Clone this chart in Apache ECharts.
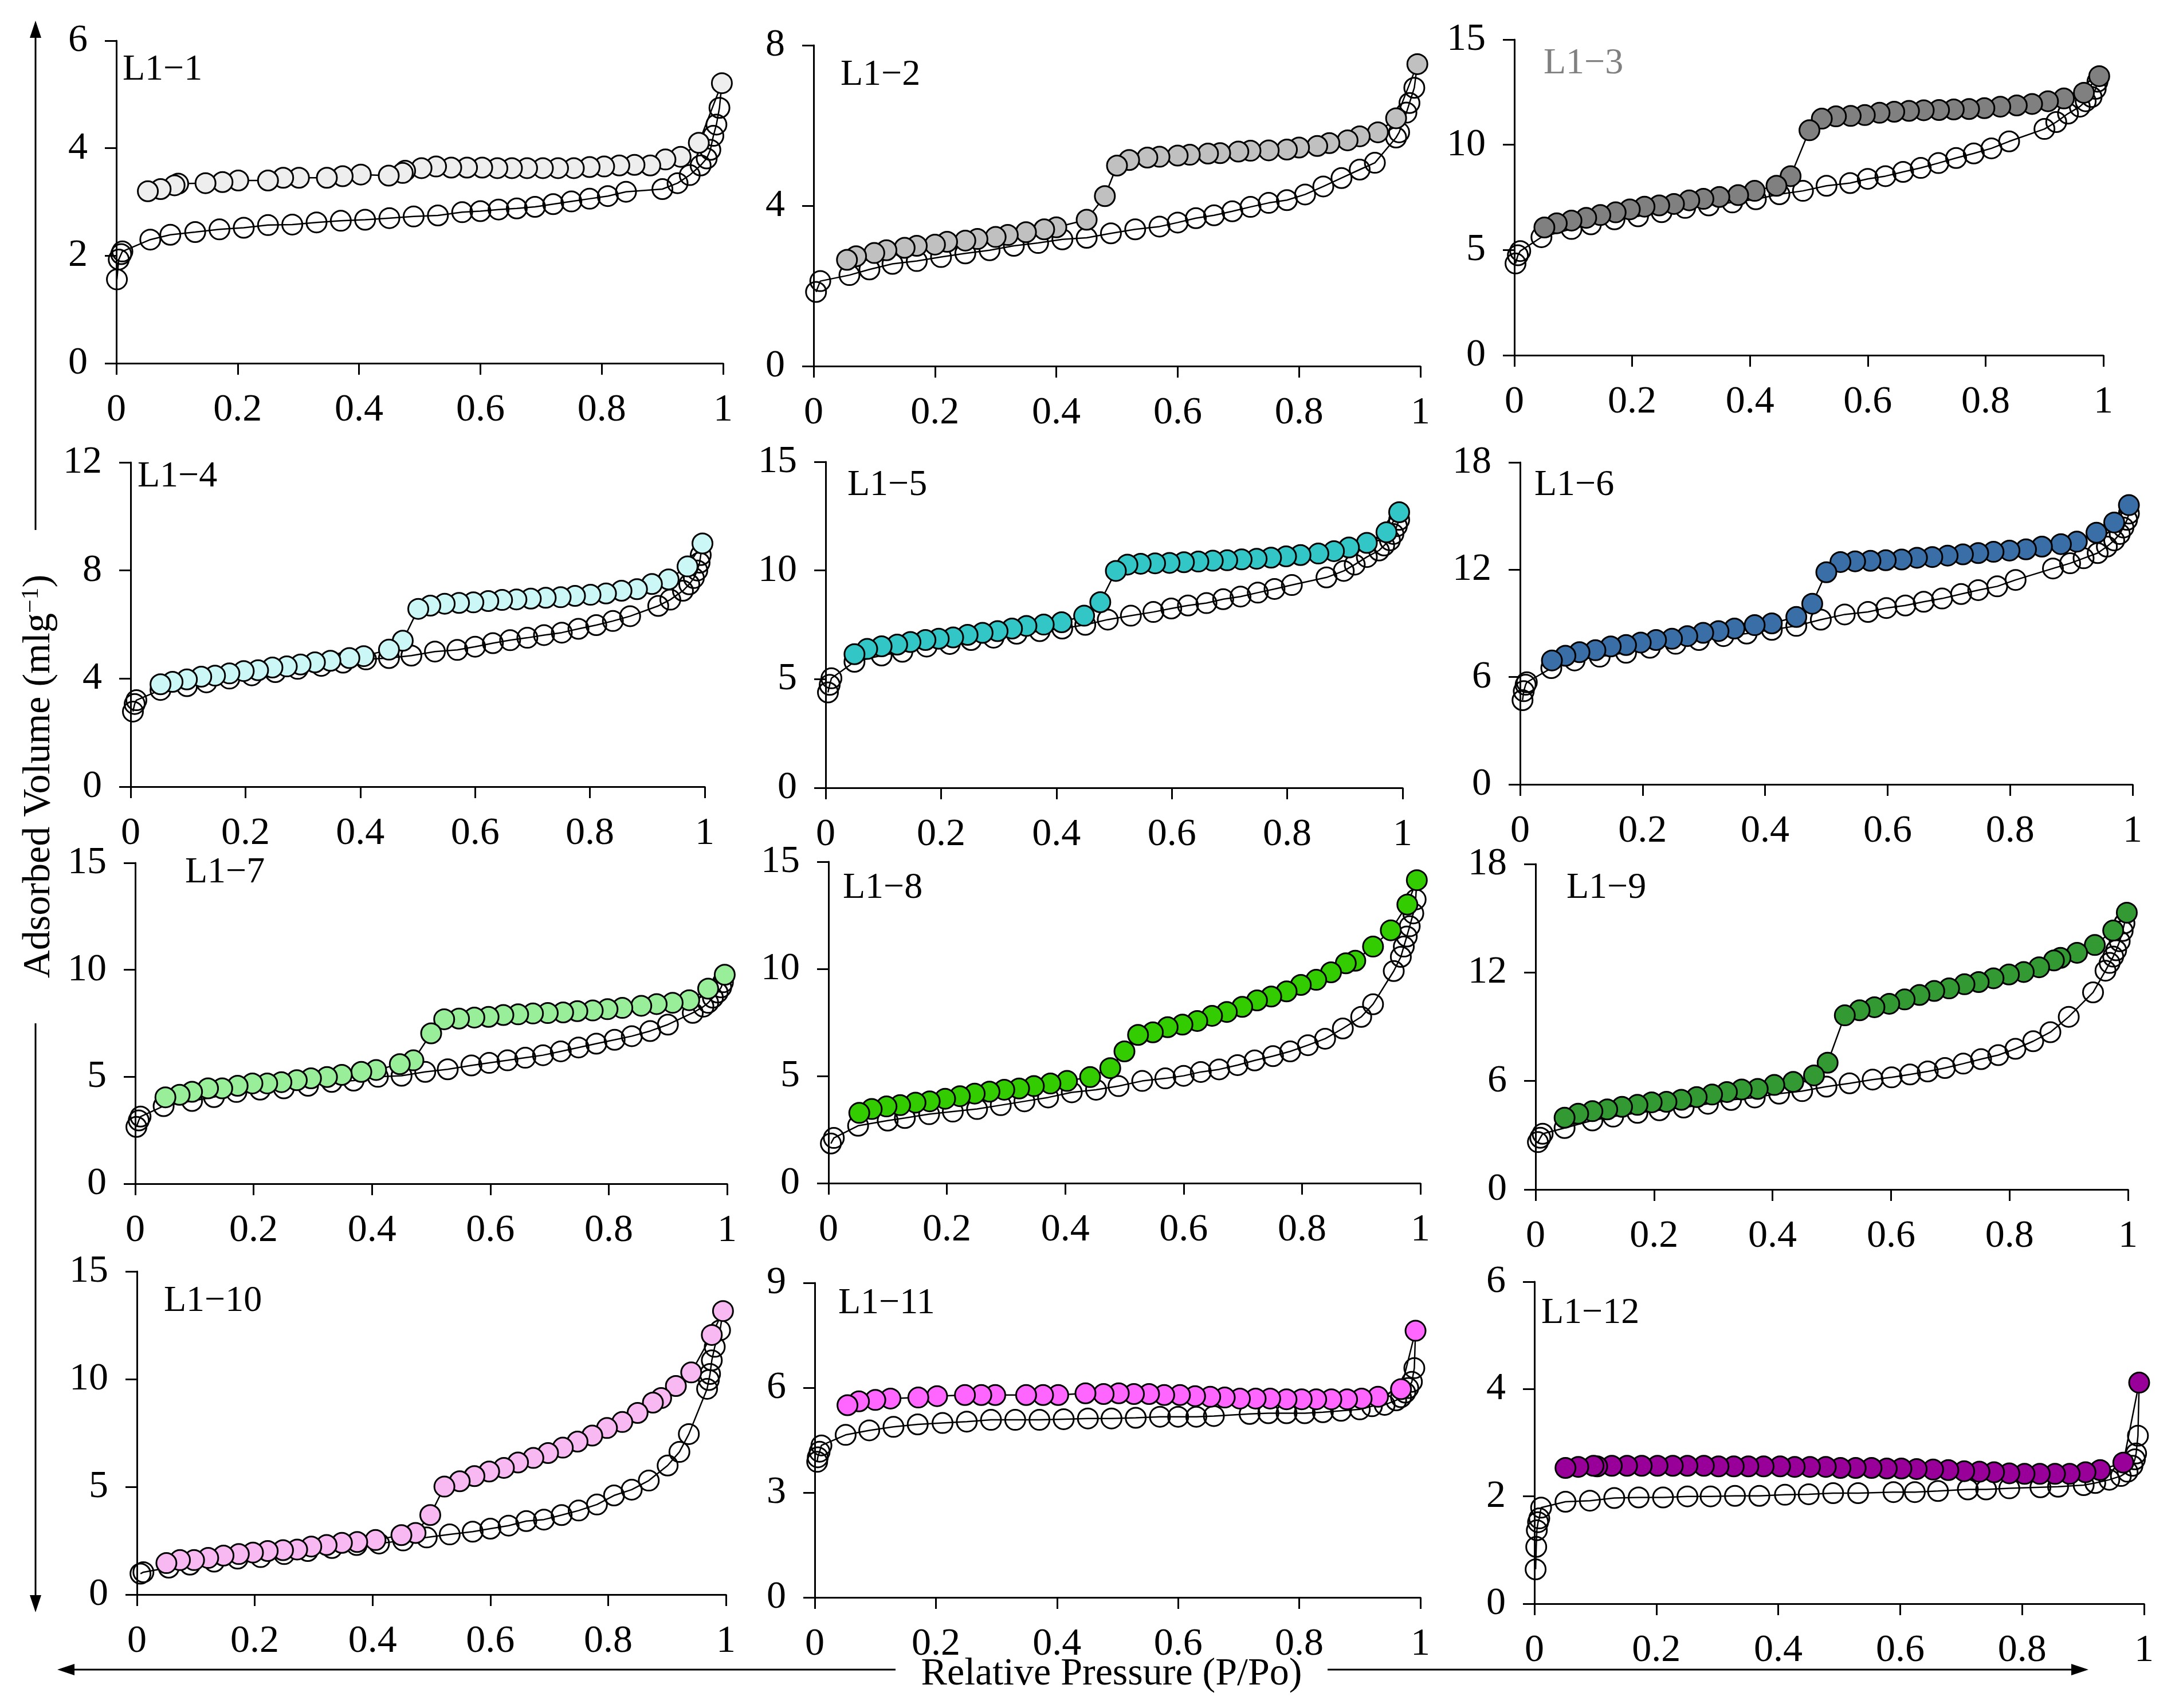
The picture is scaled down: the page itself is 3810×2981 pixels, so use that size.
<!doctype html>
<html>
<head>
<meta charset="utf-8">
<title>Isotherms L1-1 to L1-12</title>
<script src="https://cdn.jsdelivr.net/npm/echarts@6.0.0/dist/echarts.min.js"></script>
<style>
  html, body { margin: 0; padding: 0; background: #fff; }
  #main { width: 3810px; height: 2981px; }
</style>
</head>
<body>
<div id="main"></div>
<script>
// ---- data (P/Po, adsorbed volume) ----
var names = ['L1−1', 'L1−2', 'L1−3', 'L1−4', 'L1−5', 'L1−6', 'L1−7', 'L1−8', 'L1−9', 'L1−10', 'L1−11', 'L1−12'];
var yMax = [6, 8, 15, 12, 15, 18, 15, 15, 18, 15, 9, 6];
var yStep = [2, 4, 5, 4, 5, 6, 5, 5, 6, 5, 3, 2];
var xTicks = [0, 0.2, 0.4, 0.6, 0.8, 1];

var p1AdsX = [0.001, 0.004, 0.008, 0.01, 0.056, 0.089, 0.13, 0.17, 0.21, 0.25, 0.29, 0.33, 0.37, 0.41, 0.45, 0.49, 0.53, 0.57, 0.6, 0.63, 0.66, 0.69, 0.72, 0.75, 0.78, 0.81, 0.84, 0.9, 0.925, 0.945, 0.963, 0.973, 0.979, 0.984, 0.989, 0.994];
var p1AdsY = [1.56, 1.93, 2.03, 2.08, 2.30, 2.39, 2.44, 2.49, 2.52, 2.57, 2.58, 2.62, 2.65, 2.67, 2.70, 2.73, 2.75, 2.81, 2.83, 2.86, 2.88, 2.91, 2.96, 3.01, 3.06, 3.11, 3.19, 3.24, 3.35, 3.50, 3.68, 3.81, 3.97, 4.23, 4.44, 4.75];
var p1DesX = [0.998, 0.96, 0.93, 0.905, 0.88, 0.854, 0.829, 0.804, 0.78, 0.754, 0.728, 0.703, 0.677, 0.652, 0.628, 0.603, 0.578, 0.552, 0.527, 0.503, 0.476, 0.472, 0.449, 0.403, 0.373, 0.347, 0.301, 0.275, 0.25, 0.201, 0.175, 0.147, 0.102, 0.096, 0.073, 0.052];
var p1DesY = [5.21, 4.10, 3.84, 3.79, 3.68, 3.69, 3.68, 3.66, 3.65, 3.63, 3.63, 3.63, 3.63, 3.63, 3.63, 3.64, 3.64, 3.64, 3.66, 3.63, 3.58, 3.54, 3.49, 3.51, 3.48, 3.45, 3.45, 3.45, 3.40, 3.40, 3.37, 3.35, 3.34, 3.31, 3.24, 3.20];

var p2AdsX = [0.004, 0.011, 0.059, 0.092, 0.13, 0.17, 0.21, 0.25, 0.29, 0.33, 0.37, 0.41, 0.45, 0.49, 0.53, 0.57, 0.6, 0.63, 0.66, 0.69, 0.72, 0.75, 0.78, 0.81, 0.84, 0.87, 0.9, 0.925, 0.96, 0.965, 0.977, 0.982, 0.99];
var p2AdsY = [1.85, 2.12, 2.27, 2.41, 2.55, 2.62, 2.72, 2.81, 2.89, 3.0, 3.07, 3.16, 3.2, 3.31, 3.41, 3.48, 3.58, 3.69, 3.76, 3.86, 3.97, 4.07, 4.14, 4.28, 4.48, 4.69, 4.9, 5.07, 5.7, 5.83, 6.32, 6.56, 6.94];
var p2DesX = [0.995, 0.96, 0.93, 0.9, 0.88, 0.85, 0.83, 0.8, 0.78, 0.75, 0.72, 0.7, 0.67, 0.65, 0.62, 0.6, 0.57, 0.55, 0.52, 0.5, 0.48, 0.45, 0.4, 0.38, 0.35, 0.32, 0.3, 0.27, 0.25, 0.22, 0.2, 0.17, 0.15, 0.12, 0.1, 0.07, 0.055];
var p2DesY = [7.53, 6.18, 5.83, 5.73, 5.63, 5.56, 5.49, 5.45, 5.4, 5.38, 5.37, 5.35, 5.31, 5.3, 5.27, 5.25, 5.22, 5.2, 5.14, 5.0, 4.24, 3.65, 3.46, 3.41, 3.34, 3.27, 3.22, 3.17, 3.13, 3.1, 3.03, 3.0, 2.95, 2.89, 2.82, 2.74, 2.65];

var p3AdsX = [0.002, 0.006, 0.01, 0.046, 0.097, 0.13, 0.17, 0.21, 0.25, 0.29, 0.33, 0.37, 0.41, 0.45, 0.49, 0.53, 0.57, 0.6, 0.63, 0.66, 0.69, 0.72, 0.75, 0.78, 0.81, 0.84, 0.9, 0.92, 0.94, 0.96, 0.97, 0.98, 0.987, 0.99];
var p3AdsY = [4.36, 4.75, 4.95, 5.61, 6.0, 6.22, 6.46, 6.6, 6.8, 7.0, 7.12, 7.26, 7.41, 7.65, 7.81, 8.05, 8.18, 8.38, 8.51, 8.71, 8.9, 9.13, 9.37, 9.59, 9.83, 10.16, 10.75, 11.08, 11.48, 11.81, 12.07, 12.27, 12.66, 13.0];
var p3DesX = [0.993, 0.967, 0.933, 0.906, 0.879, 0.853, 0.825, 0.798, 0.772, 0.746, 0.721, 0.695, 0.67, 0.645, 0.62, 0.595, 0.571, 0.546, 0.522, 0.501, 0.469, 0.445, 0.408, 0.38, 0.348, 0.321, 0.297, 0.271, 0.246, 0.221, 0.196, 0.172, 0.146, 0.122, 0.097, 0.072, 0.051];
var p3DesY = [13.26, 12.47, 12.2, 12.07, 11.94, 11.87, 11.81, 11.74, 11.7, 11.68, 11.65, 11.64, 11.61, 11.57, 11.52, 11.41, 11.37, 11.35, 11.24, 10.69, 8.51, 8.05, 7.81, 7.61, 7.52, 7.43, 7.36, 7.19, 7.12, 7.06, 6.93, 6.79, 6.66, 6.53, 6.4, 6.27, 6.07];

var p4AdsX = [0.004, 0.007, 0.01, 0.052, 0.098, 0.132, 0.172, 0.211, 0.252, 0.291, 0.332, 0.37, 0.41, 0.45, 0.489, 0.53, 0.569, 0.6, 0.631, 0.661, 0.691, 0.72, 0.751, 0.78, 0.811, 0.84, 0.87, 0.919, 0.94, 0.962, 0.973, 0.981, 0.987, 0.991, 0.993];
var p4AdsY = [2.78, 3.06, 3.2, 3.58, 3.72, 3.86, 4.0, 4.12, 4.24, 4.36, 4.47, 4.59, 4.71, 4.76, 4.85, 5.0, 5.06, 5.18, 5.31, 5.42, 5.51, 5.61, 5.7, 5.84, 5.98, 6.13, 6.31, 6.69, 6.92, 7.25, 7.49, 7.72, 8.0, 8.29, 8.57];
var p4DesX = [0.996, 0.97, 0.937, 0.908, 0.882, 0.855, 0.828, 0.801, 0.774, 0.749, 0.723, 0.697, 0.672, 0.647, 0.623, 0.597, 0.572, 0.547, 0.522, 0.501, 0.474, 0.45, 0.406, 0.381, 0.348, 0.321, 0.296, 0.272, 0.247, 0.222, 0.197, 0.172, 0.147, 0.123, 0.098, 0.073, 0.052];
var p4DesY = [9.0, 8.15, 7.67, 7.5, 7.31, 7.25, 7.15, 7.1, 7.06, 7.01, 6.99, 6.96, 6.93, 6.91, 6.87, 6.82, 6.8, 6.77, 6.7, 6.58, 5.4, 5.07, 4.83, 4.76, 4.66, 4.6, 4.52, 4.45, 4.41, 4.31, 4.28, 4.19, 4.11, 4.07, 3.97, 3.88, 3.79];

var p5AdsX = [0.004, 0.007, 0.01, 0.05, 0.097, 0.133, 0.175, 0.215, 0.252, 0.291, 0.331, 0.371, 0.41, 0.45, 0.489, 0.529, 0.568, 0.599, 0.628, 0.66, 0.689, 0.719, 0.749, 0.778, 0.808, 0.868, 0.898, 0.917, 0.938, 0.959, 0.968, 0.978, 0.984, 0.99, 0.994];
var p5AdsY = [4.39, 4.74, 5.04, 5.8, 6.09, 6.26, 6.5, 6.62, 6.8, 6.91, 7.09, 7.21, 7.33, 7.5, 7.74, 7.92, 8.09, 8.25, 8.39, 8.5, 8.68, 8.8, 8.98, 9.15, 9.33, 9.68, 9.98, 10.27, 10.62, 10.92, 11.15, 11.39, 11.68, 12.04, 12.33];
var p5DesX = [0.994, 0.972, 0.938, 0.907, 0.881, 0.854, 0.823, 0.798, 0.772, 0.747, 0.721, 0.696, 0.671, 0.646, 0.621, 0.596, 0.571, 0.546, 0.523, 0.503, 0.476, 0.448, 0.409, 0.378, 0.348, 0.323, 0.298, 0.272, 0.246, 0.221, 0.196, 0.173, 0.147, 0.124, 0.097, 0.072, 0.05];
var p5DesY = [12.68, 11.76, 11.27, 11.06, 10.89, 10.78, 10.71, 10.65, 10.59, 10.54, 10.51, 10.47, 10.45, 10.41, 10.38, 10.35, 10.33, 10.31, 10.27, 9.98, 8.54, 7.92, 7.62, 7.51, 7.45, 7.33, 7.21, 7.13, 7.04, 6.92, 6.86, 6.8, 6.71, 6.59, 6.51, 6.39, 6.15];

var p6AdsX = [0.004, 0.006, 0.009, 0.011, 0.051, 0.089, 0.13, 0.173, 0.212, 0.254, 0.292, 0.332, 0.37, 0.411, 0.451, 0.491, 0.53, 0.568, 0.598, 0.629, 0.659, 0.689, 0.72, 0.748, 0.779, 0.809, 0.87, 0.898, 0.92, 0.943, 0.958, 0.97, 0.979, 0.985, 0.991, 0.994];
var p6AdsY = [4.71, 5.21, 5.57, 5.71, 6.5, 6.93, 7.14, 7.36, 7.64, 7.86, 8.07, 8.29, 8.43, 8.64, 8.86, 9.21, 9.5, 9.64, 9.86, 10.0, 10.21, 10.39, 10.64, 10.86, 11.07, 11.43, 12.07, 12.36, 12.64, 12.93, 13.29, 13.64, 14.0, 14.36, 14.79, 15.14];
var p6DesX = [0.994, 0.97, 0.941, 0.909, 0.883, 0.852, 0.826, 0.799, 0.773, 0.748, 0.723, 0.698, 0.673, 0.648, 0.623, 0.597, 0.572, 0.547, 0.523, 0.5, 0.477, 0.451, 0.411, 0.383, 0.35, 0.324, 0.299, 0.273, 0.248, 0.222, 0.197, 0.173, 0.148, 0.123, 0.097, 0.074, 0.052];
var p6DesY = [15.61, 14.64, 14.07, 13.57, 13.43, 13.29, 13.14, 13.07, 13.0, 12.93, 12.86, 12.79, 12.71, 12.67, 12.57, 12.53, 12.5, 12.47, 12.43, 11.86, 10.1, 9.36, 9.0, 8.9, 8.71, 8.57, 8.47, 8.29, 8.14, 8.07, 7.93, 7.79, 7.71, 7.5, 7.39, 7.19, 6.93];

var p7AdsX = [0.002, 0.006, 0.009, 0.048, 0.096, 0.133, 0.171, 0.211, 0.251, 0.292, 0.332, 0.369, 0.41, 0.45, 0.49, 0.528, 0.568, 0.598, 0.629, 0.659, 0.689, 0.719, 0.749, 0.779, 0.81, 0.839, 0.87, 0.9, 0.942, 0.96, 0.968, 0.976, 0.984, 0.99, 0.993];
var p7AdsY = [2.66, 2.96, 3.14, 3.63, 3.87, 4.05, 4.29, 4.4, 4.46, 4.58, 4.76, 4.82, 5.0, 5.05, 5.23, 5.35, 5.53, 5.65, 5.77, 5.89, 6.01, 6.19, 6.37, 6.55, 6.73, 6.9, 7.14, 7.44, 7.99, 8.28, 8.46, 8.7, 8.94, 9.18, 9.42];
var p7DesX = [0.996, 0.968, 0.936, 0.908, 0.881, 0.855, 0.823, 0.798, 0.773, 0.747, 0.723, 0.697, 0.672, 0.647, 0.622, 0.597, 0.573, 0.547, 0.522, 0.5, 0.47, 0.447, 0.407, 0.382, 0.349, 0.324, 0.297, 0.273, 0.247, 0.223, 0.198, 0.173, 0.147, 0.123, 0.096, 0.075, 0.051];
var p7DesY = [9.77, 9.12, 8.58, 8.46, 8.4, 8.32, 8.22, 8.16, 8.1, 8.07, 8.01, 7.98, 7.96, 7.92, 7.89, 7.8, 7.77, 7.72, 7.69, 7.03, 5.77, 5.59, 5.32, 5.23, 5.09, 4.99, 4.93, 4.84, 4.75, 4.69, 4.69, 4.58, 4.46, 4.46, 4.3, 4.16, 4.04];

var p8AdsX = [0.004, 0.009, 0.05, 0.1, 0.129, 0.17, 0.21, 0.251, 0.291, 0.331, 0.371, 0.411, 0.452, 0.49, 0.53, 0.569, 0.6, 0.629, 0.66, 0.691, 0.72, 0.751, 0.78, 0.81, 0.839, 0.869, 0.9, 0.92, 0.955, 0.967, 0.972, 0.977, 0.982, 0.988, 0.992];
var p8AdsY = [1.85, 2.11, 2.68, 2.92, 3.04, 3.22, 3.34, 3.46, 3.64, 3.82, 4.0, 4.24, 4.36, 4.53, 4.77, 4.89, 5.01, 5.19, 5.31, 5.51, 5.73, 5.93, 6.15, 6.44, 6.74, 7.22, 7.76, 8.35, 9.9, 10.56, 11.04, 11.51, 11.99, 12.59, 13.24];
var p8DesX = [0.994, 0.978, 0.95, 0.92, 0.89, 0.874, 0.849, 0.824, 0.798, 0.774, 0.748, 0.724, 0.699, 0.673, 0.648, 0.623, 0.598, 0.573, 0.548, 0.523, 0.5, 0.476, 0.442, 0.403, 0.375, 0.347, 0.322, 0.297, 0.272, 0.247, 0.222, 0.197, 0.171, 0.147, 0.121, 0.098, 0.073, 0.052];
var p8DesY = [14.14, 13.0, 11.8, 11.04, 10.38, 10.26, 9.84, 9.49, 9.25, 8.95, 8.71, 8.53, 8.23, 7.99, 7.81, 7.57, 7.4, 7.28, 7.04, 6.92, 6.15, 5.37, 4.95, 4.77, 4.65, 4.53, 4.42, 4.36, 4.27, 4.18, 4.06, 3.94, 3.82, 3.76, 3.64, 3.58, 3.46, 3.28];

var p9AdsX = [0.004, 0.008, 0.012, 0.049, 0.096, 0.131, 0.172, 0.209, 0.25, 0.291, 0.33, 0.37, 0.411, 0.45, 0.491, 0.53, 0.569, 0.601, 0.632, 0.662, 0.691, 0.722, 0.752, 0.781, 0.81, 0.84, 0.869, 0.9, 0.941, 0.962, 0.969, 0.975, 0.98, 0.986, 0.991, 0.994];
var p9AdsY = [2.62, 2.86, 3.08, 3.4, 3.82, 4.03, 4.24, 4.38, 4.53, 4.74, 4.95, 5.09, 5.3, 5.44, 5.69, 5.87, 6.08, 6.2, 6.36, 6.53, 6.72, 6.96, 7.21, 7.43, 7.78, 8.2, 8.7, 9.55, 10.9, 12.1, 12.53, 12.88, 13.23, 13.73, 14.3, 14.72];
var p9DesX = [0.998, 0.975, 0.944, 0.914, 0.886, 0.875, 0.85, 0.824, 0.799, 0.773, 0.748, 0.724, 0.698, 0.673, 0.648, 0.623, 0.597, 0.572, 0.547, 0.522, 0.493, 0.47, 0.435, 0.403, 0.375, 0.348, 0.323, 0.298, 0.272, 0.246, 0.221, 0.196, 0.172, 0.146, 0.121, 0.096, 0.072, 0.049];
var p9DesY = [15.31, 14.32, 13.52, 13.09, 12.81, 12.67, 12.29, 12.03, 11.89, 11.68, 11.47, 11.35, 11.12, 10.98, 10.76, 10.51, 10.27, 10.08, 9.91, 9.63, 7.01, 6.31, 5.95, 5.78, 5.56, 5.53, 5.39, 5.25, 5.11, 4.96, 4.85, 4.82, 4.68, 4.57, 4.43, 4.33, 4.19, 3.97];

var p10AdsX = [0.006, 0.011, 0.054, 0.09, 0.131, 0.171, 0.21, 0.25, 0.29, 0.331, 0.373, 0.411, 0.452, 0.492, 0.531, 0.57, 0.6, 0.631, 0.661, 0.691, 0.721, 0.75, 0.781, 0.81, 0.84, 0.869, 0.901, 0.921, 0.937, 0.968, 0.971, 0.973, 0.976, 0.981, 0.99];
var p10AdsY = [0.97, 1.04, 1.25, 1.39, 1.53, 1.67, 1.74, 1.88, 2.02, 2.16, 2.3, 2.37, 2.51, 2.65, 2.79, 2.92, 3.06, 3.2, 3.41, 3.48, 3.69, 3.9, 4.18, 4.6, 4.87, 5.29, 5.99, 6.62, 7.45, 9.55, 9.96, 10.24, 10.87, 11.5, 12.27];
var p10DesX = [0.995, 0.976, 0.941, 0.915, 0.89, 0.876, 0.85, 0.824, 0.798, 0.773, 0.748, 0.723, 0.698, 0.673, 0.647, 0.623, 0.598, 0.573, 0.548, 0.522, 0.498, 0.473, 0.449, 0.405, 0.374, 0.348, 0.322, 0.296, 0.272, 0.248, 0.222, 0.197, 0.173, 0.147, 0.121, 0.097, 0.073, 0.05];
var p10DesY = [13.16, 12.05, 10.31, 9.68, 9.12, 8.91, 8.43, 8.01, 7.73, 7.38, 7.1, 6.82, 6.57, 6.34, 6.13, 5.88, 5.71, 5.5, 5.26, 5.01, 3.69, 2.86, 2.76, 2.53, 2.44, 2.4, 2.3, 2.23, 2.09, 2.06, 2.02, 1.95, 1.88, 1.81, 1.7, 1.6, 1.6, 1.46];

var p11AdsX = [0.004, 0.005, 0.008, 0.011, 0.051, 0.09, 0.13, 0.17, 0.211, 0.251, 0.291, 0.331, 0.371, 0.411, 0.451, 0.49, 0.53, 0.57, 0.6, 0.63, 0.659, 0.718, 0.749, 0.779, 0.809, 0.839, 0.869, 0.9, 0.92, 0.941, 0.96, 0.968, 0.975, 0.98, 0.986, 0.99];
var p11AdsY = [3.88, 4.01, 4.17, 4.35, 4.65, 4.78, 4.88, 4.95, 4.99, 5.03, 5.08, 5.08, 5.08, 5.1, 5.12, 5.12, 5.14, 5.17, 5.17, 5.17, 5.19, 5.25, 5.27, 5.27, 5.27, 5.3, 5.34, 5.38, 5.47, 5.51, 5.64, 5.73, 5.86, 5.99, 6.17, 6.56];
var p11DesX = [0.992, 0.968, 0.93, 0.903, 0.879, 0.853, 0.828, 0.804, 0.779, 0.752, 0.728, 0.702, 0.677, 0.653, 0.628, 0.603, 0.577, 0.552, 0.527, 0.502, 0.477, 0.447, 0.402, 0.377, 0.349, 0.298, 0.275, 0.248, 0.202, 0.171, 0.125, 0.1, 0.073, 0.054];
var p11DesY = [7.63, 5.96, 5.74, 5.69, 5.67, 5.67, 5.67, 5.67, 5.67, 5.69, 5.69, 5.69, 5.72, 5.74, 5.76, 5.79, 5.79, 5.82, 5.82, 5.84, 5.82, 5.84, 5.79, 5.79, 5.79, 5.79, 5.79, 5.79, 5.76, 5.72, 5.69, 5.65, 5.61, 5.5];

var p12AdsX = [0.002, 0.003, 0.004, 0.006, 0.008, 0.011, 0.051, 0.091, 0.131, 0.171, 0.211, 0.251, 0.289, 0.329, 0.369, 0.411, 0.45, 0.49, 0.531, 0.589, 0.624, 0.662, 0.711, 0.741, 0.779, 0.83, 0.859, 0.901, 0.92, 0.943, 0.962, 0.973, 0.981, 0.985, 0.987, 0.99];
var p12AdsY = [0.64, 1.06, 1.37, 1.52, 1.59, 1.79, 1.9, 1.92, 1.97, 1.98, 1.98, 2.0, 2.0, 2.01, 2.01, 2.03, 2.04, 2.06, 2.06, 2.08, 2.08, 2.1, 2.13, 2.13, 2.15, 2.17, 2.18, 2.21, 2.25, 2.31, 2.38, 2.46, 2.57, 2.69, 2.8, 3.13];
var p12DesX = [0.992, 0.966, 0.928, 0.904, 0.878, 0.854, 0.829, 0.804, 0.779, 0.754, 0.73, 0.705, 0.679, 0.654, 0.627, 0.602, 0.578, 0.553, 0.527, 0.502, 0.478, 0.452, 0.427, 0.403, 0.376, 0.351, 0.327, 0.302, 0.278, 0.251, 0.227, 0.202, 0.176, 0.152, 0.127, 0.103, 0.097, 0.072, 0.051];
var p12DesY = [4.12, 2.63, 2.49, 2.45, 2.42, 2.42, 2.42, 2.42, 2.43, 2.45, 2.46, 2.47, 2.49, 2.5, 2.51, 2.52, 2.52, 2.53, 2.53, 2.53, 2.55, 2.55, 2.55, 2.56, 2.56, 2.56, 2.56, 2.56, 2.57, 2.57, 2.57, 2.57, 2.57, 2.57, 2.57, 2.56, 2.57, 2.55, 2.53];

var adsX = [p1AdsX, p2AdsX, p3AdsX, p4AdsX, p5AdsX, p6AdsX, p7AdsX, p8AdsX, p9AdsX, p10AdsX, p11AdsX, p12AdsX];
var adsY = [p1AdsY, p2AdsY, p3AdsY, p4AdsY, p5AdsY, p6AdsY, p7AdsY, p8AdsY, p9AdsY, p10AdsY, p11AdsY, p12AdsY];
var desX = [p1DesX, p2DesX, p3DesX, p4DesX, p5DesX, p6DesX, p7DesX, p8DesX, p9DesX, p10DesX, p11DesX, p12DesX];
var desY = [p1DesY, p2DesY, p3DesY, p4DesY, p5DesY, p6DesY, p7DesY, p8DesY, p9DesY, p10DesY, p11DesY, p12DesY];

// ---- look ----
var desColors = ['#eeeeee', '#c0c0c0', '#808080', '#ccf7f7', '#33c6c6', '#3a6ea6', '#99ee99', '#33cc00', '#339933', '#f8b8f2', '#ff66ff', '#990099'];
var nameColors = ['#000', '#000', '#808080', '#000', '#000', '#000', '#000', '#000', '#000', '#000', '#000', '#000'];
// grid boxes [left, top, width, height]
var boxes = [
  [203, 71, 1059, 563], [1420, 79, 1059, 560], [2643, 69, 1028, 551],
  [228, 807, 1002, 566], [1441, 806, 1007, 569], [2653, 807, 1069, 562],
  [236, 1506, 1033, 560], [1446, 1504, 1033, 561], [2680, 1508, 1034, 568],
  [239, 2219, 1028, 564], [1422, 2239, 1057, 549], [2678, 2237, 1064, 562]
];
// panel name positions [left, middle y]
var namePos = [
  [214, 122], [1467, 131], [2694, 111],
  [240, 832], [1479, 847], [2678, 847],
  [323, 1523], [1471, 1550], [2734, 1550],
  [286, 2271], [1463, 2275], [2690, 2292]
];

var FONT = "'Liberation Serif', 'Times New Roman', serif";
var FS = 64;
var TFS = 68;

function zip(xs, ys) {
  var out = [];
  for (var k = 0; k < xs.length; k++) out.push([xs[k], ys[k]]);
  return out;
}

var grids = [], xAxes = [], yAxes = [], series = [], graphics = [];

for (var i = 0; i < 12; i++) {
  var b = boxes[i];
  grids.push({ left: b[0], top: b[1], width: b[2], height: b[3], containLabel: false });

  xAxes.push({
    gridIndex: i, type: 'value', min: 0, max: 1, interval: 0.2,
    axisLine: { show: true, onZero: false, lineStyle: { color: '#000', width: 3 } },
    axisTick: { show: true, length: 20, lineStyle: { color: '#000', width: 3 } },
    axisLabel: { color: '#000', fontFamily: FONT, fontSize: TFS, margin: 48 },
    splitLine: { show: false }
  });
  yAxes.push({
    gridIndex: i, type: 'value', min: 0, max: yMax[i], interval: yStep[i],
    axisLine: { show: true, onZero: false, lineStyle: { color: '#000', width: 3 } },
    axisTick: { show: true, length: 20, lineStyle: { color: '#000', width: 3 } },
    axisLabel: { color: '#000', fontFamily: FONT, fontSize: TFS, margin: 50 },
    splitLine: { show: false }
  });

  var ads = zip(adsX[i], adsY[i]);
  var des = zip(desX[i], desY[i]);

  // connecting line through the whole loop
  series.push({
    type: 'line', xAxisIndex: i, yAxisIndex: i, z: 1,
    data: ads.concat(des), showSymbol: false, silent: true,
    lineStyle: { color: '#000', width: 2.5 }
  });
  // adsorption: open circles
  series.push({
    type: 'scatter', xAxisIndex: i, yAxisIndex: i, z: 2,
    data: ads, symbol: 'circle', symbolSize: 35,
    itemStyle: { color: 'rgba(255,255,255,0)', borderColor: '#000', borderWidth: 3, opacity: 1 }
  });
  // desorption: filled circles
  series.push({
    type: 'scatter', xAxisIndex: i, yAxisIndex: i, z: 3,
    data: des, symbol: 'circle', symbolSize: 35,
    itemStyle: { color: desColors[i], borderColor: '#000', borderWidth: 3, opacity: 1 }
  });

  graphics.push({
    type: 'text', left: namePos[i][0], top: namePos[i][1] - FS / 2, z: 10,
    style: { text: names[i], fill: nameColors[i], font: FS + 'px ' + FONT }
  });
}

// axis titles with arrows
var LW = 3;
graphics.push(
  { type: 'line', shape: { x1: 62, y1: 925, x2: 62, y2: 60 }, style: { stroke: '#000', lineWidth: LW } },
  { type: 'polygon', shape: { points: [[62, 36], [52, 66], [72, 66]] }, style: { fill: '#000' } },
  { type: 'line', shape: { x1: 62, y1: 1786, x2: 62, y2: 2790 }, style: { stroke: '#000', lineWidth: LW } },
  { type: 'polygon', shape: { points: [[62, 2814], [52, 2784], [72, 2784]] }, style: { fill: '#000' } },
  {
    type: 'text', x: 68, y: 1355, rotation: Math.PI / 2,
    style: {
      text: 'Adsorbed Volume (mlg{sup|−1})',
      font: TFS + 'px ' + FONT, fill: '#000', align: 'center', verticalAlign: 'middle',
      rich: { sup: { fontSize: 42, fontFamily: FONT, verticalAlign: 'top', fill: '#000' } }
    }
  },
  { type: 'line', shape: { x1: 124, y1: 2914, x2: 1563, y2: 2914 }, style: { stroke: '#000', lineWidth: LW } },
  { type: 'polygon', shape: { points: [[100, 2914], [130, 2904], [130, 2924]] }, style: { fill: '#000' } },
  { type: 'line', shape: { x1: 2317, y1: 2914, x2: 3620, y2: 2914 }, style: { stroke: '#000', lineWidth: LW } },
  { type: 'polygon', shape: { points: [[3645, 2914], [3615, 2904], [3615, 2924]] }, style: { fill: '#000' } },
  {
    type: 'text', x: 1940, y: 2922,
    style: { text: 'Relative Pressure (P/Po)', font: TFS + 'px ' + FONT, fill: '#000', align: 'center', verticalAlign: 'middle' }
  }
);

var myChart = echarts.init(document.getElementById('main'), null, { renderer: 'canvas' });
myChart.setOption({
  animation: false,
  backgroundColor: '#fff',
  grid: grids,
  xAxis: xAxes,
  yAxis: yAxes,
  series: series,
  graphic: graphics
});
</script>
</body>
</html>
